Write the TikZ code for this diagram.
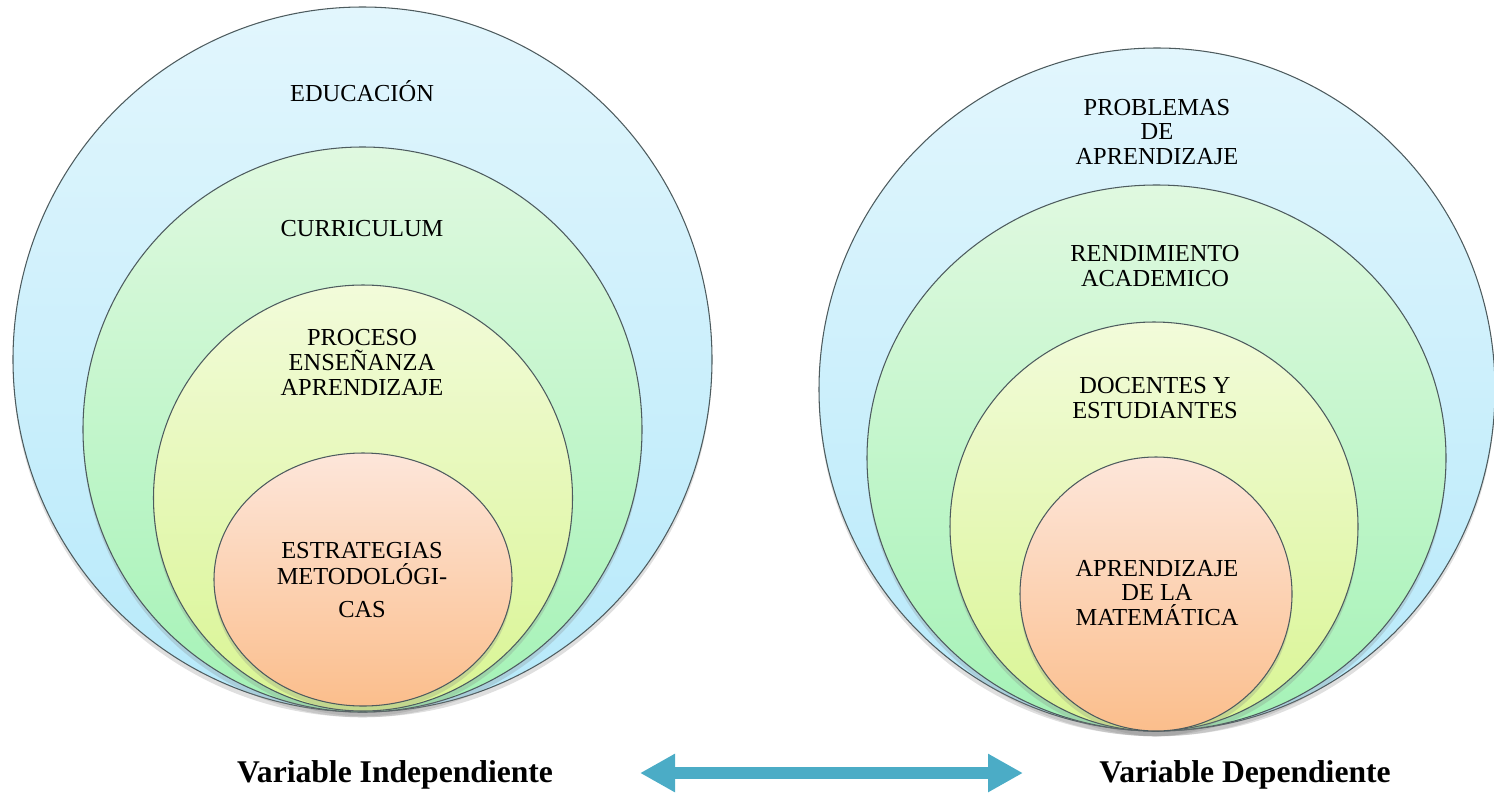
\documentclass[tikz,border=0pt]{standalone}
\usepackage{fontspec}
\setmainfont{Liberation Serif}
\usetikzlibrary{shapes.geometric, shadows, arrows.meta, positioning}

\newlength\px
\setlength\px{0.02cm}

\definecolor{blueTop}{HTML}{E2F6FD}
\definecolor{blueBot}{HTML}{B6E9FA}
\definecolor{greenTop}{HTML}{E0F9E0}
\definecolor{greenBot}{HTML}{A4F2B6}
\definecolor{yellowTop}{HTML}{F2FBDA}
\definecolor{yellowBot}{HTML}{D9F593}
\definecolor{orangeTop}{HTML}{FDE6DA}
\definecolor{orangeBot}{HTML}{FBBE8C}
\definecolor{ringline}{HTML}{4D5B5E}
\definecolor{arrowc}{HTML}{4BACC6}

\tikzset{
  ring/.style={ellipse, draw=ringline, line width=0.6pt, inner sep=0pt,
    drop shadow={opacity=0.25, shadow xshift=0pt, shadow yshift=-3pt}},
  blue ring/.style={ring, top color=blueTop, bottom color=blueBot},
  green ring/.style={ring, top color=greenTop, bottom color=greenBot},
  yellow ring/.style={ring, top color=yellowTop, bottom color=yellowBot},
  orange ring/.style={ring, top color=orangeTop, bottom color=orangeBot},
  txt/.style={font=\fontsize{13.9}{14.2}\selectfont, align=center, inner sep=0pt},
  varlbl/.style={font=\fontsize{18}{20}\selectfont\bfseries, anchor=base, inner sep=0pt},
  conn/.style={draw=arrowc, line width=0.24cm,
    >={Triangle[length=0.7cm,width=0.72cm]}, <->}
}

\begin{document}
\begin{tikzpicture}[x=0.02cm, y=-0.02cm]
  \useasboundingbox (0,0) rectangle (1494,795);

  % independent variable
  \node[blue ring, minimum width=699\px, minimum height=705\px] (edu) at (362.5,359.5) {};
  \node[green ring, minimum width=559\px, minimum height=565\px] (cur) at (362.5,429.5) {};
  \node[yellow ring, minimum width=419\px, minimum height=426\px] (pea) at (363,498) {};
  \node[orange ring, minimum width=298\px, minimum height=253\px] (est) at (363,579.5) {};
  \node[txt] (edut) at (362,91) {EDUCACIÓN};
  \node[txt] (curt) at (362,229) {CURRICULUM};
  \node[txt] (peat) at (362,362.5) {PROCESO\\ENSEÑANZA\\APRENDIZAJE};
  \node[txt] (estt) at (362,580) {ESTRATEGIAS\\[1.1pt]METODOLÓGI-\\[4.5pt]CAS};

  % dependent variable
  \node[blue ring, minimum width=676\px, minimum height=683\px] (pro) at (1157,389.5) {};
  \node[green ring, minimum width=579\px, minimum height=546\px] (ren) at (1156.5,458) {};
  \node[yellow ring, minimum width=408\px, minimum height=409\px] (doc) at (1154,526.5) {};
  \node[orange ring, minimum width=272\px, minimum height=274\px] (mat) at (1156,594) {};
  \node[txt] (prot) at (1157,132) {PROBLEMAS\\DE\\APRENDIZAJE};
  \node[txt] (rent) at (1155,266.5) {RENDIMIENTO\\ACADEMICO};
  \node[txt] (doct) at (1155,398) {DOCENTES Y\\ESTUDIANTES};
  \node[txt] (matt) at (1157,593) {APRENDIZAJE\\DE LA\\MATEMÁTICA};

  \node[varlbl] (vi) at (395,782) {Variable Independiente};
  \node[varlbl] (vd) at (1245,782) {Variable Dependiente};
  \coordinate (al) at (640,773);
  \coordinate (ar) at (1023,773);
  \draw[conn] (al) -- (ar);
\end{tikzpicture}
\end{document}
